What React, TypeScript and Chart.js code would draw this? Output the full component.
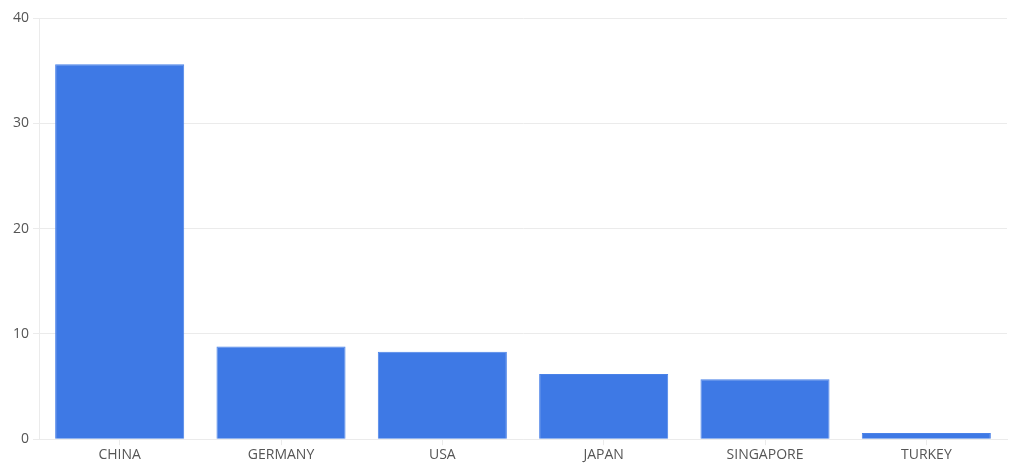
import React, { useEffect, useRef } from "react";
import { Chart, registerables } from "chart.js";

Chart.register(...registerables);

const categories = ["CHINA", "GERMANY", "USA", "JAPAN", "SINGAPORE", "TURKEY"];
const values = [35.6, 8.8, 8.3, 6.2, 5.7, 0.6];
const yTicks = [0, 10, 20, 30, 40];

export default function App() {
  const ref = useRef<HTMLCanvasElement>(null);
  useEffect(() => {
    document.body.style.margin = "0";
    const chart = new Chart(ref.current!, {
      type: "bar",
      data: {
        labels: categories,
        datasets: [
          {
            data: values,
            backgroundColor: "#3e79e5",
            borderColor: "#4a82e8",
            borderWidth: 1,
            barPercentage: 0.8,
            categoryPercentage: 1,
          },
        ],
      },
      options: {
        animation: false,
        responsive: false,
        maintainAspectRatio: false,
        layout: { padding: { top: 18, right: 13, left: 9, bottom: 10 } },
        plugins: { legend: { display: false }, tooltip: { enabled: false } },
        scales: {
          x: {
            grid: { display: true, offset: false, color: "#ebebeb", drawOnChartArea: false, tickLength: 6 },
            border: { color: "#ebebeb" },
            ticks: { color: "#555", font: { family: "'Open Sans', sans-serif", size: 14 }, padding: 1 },
          },
          y: {
            min: 0,
            max: 40,
            afterBuildTicks: (axis: any) => {
              axis.ticks = yTicks.map((v) => ({ value: v }));
            },
            grid: { color: "#ebebeb", tickLength: 6 },
            border: { color: "#ebebeb" },
            ticks: { color: "#555", font: { family: "'Open Sans', sans-serif", size: 14 }, padding: 4 },
          },
        },
      },
    });
    return () => chart.destroy();
  }, []);
  return (
    <div style={{ width: 1020, height: 474 }}>
      <canvas ref={ref} width={1020} height={474} style={{ width: 1020, height: 474 }} />
    </div>
  );
}
